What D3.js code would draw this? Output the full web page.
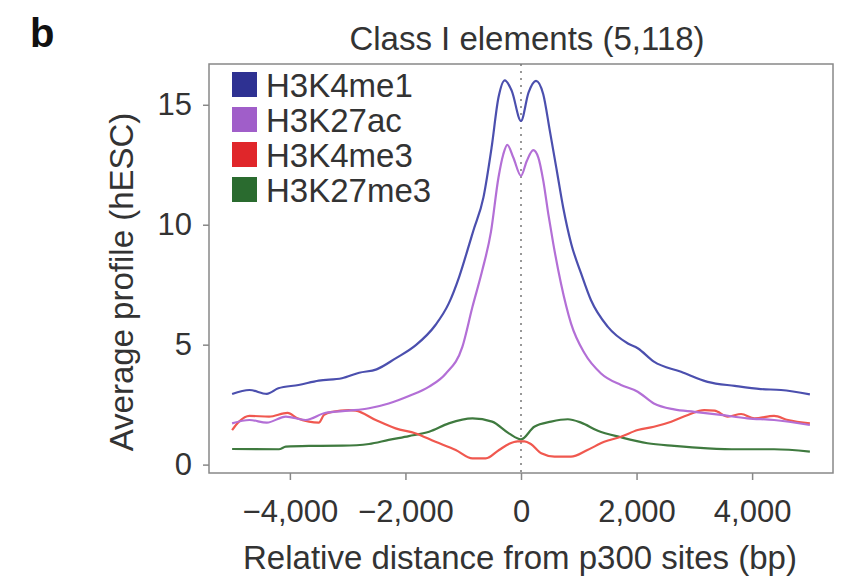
<!DOCTYPE html>
<html>
<head>
<meta charset="utf-8">
<script src="https://cdn.jsdelivr.net/npm/d3@7"></script>
<style>
  body { margin: 0; background: #fff; }
  svg text { font-family: "Liberation Sans", Arial, sans-serif; fill: #333; }
</style>
</head>
<body>
<div id="chart"></div>
<script>
// values: [bp, average profile]
var h3k4me1 = [[-5000,2.94],[-4700,3.11],[-4400,2.95],[-4200,3.18],[-3850,3.32],[-3500,3.5],[-3100,3.6],[-2800,3.83],[-2500,3.97],[-2170,4.43],[-1820,4.98],[-1480,5.82],[-1250,6.72],[-1070,7.83],[-900,9.15],[-825,9.75],[-650,11.14],[-510,13.2],[-390,15.3],[-280,16.02],[-160,15.58],[0,14.33],[130,15.51],[260,16.0],[385,15.44],[500,13.9],[620,12.25],[730,10.72],[870,9.2],[1040,7.97],[1210,6.86],[1500,5.75],[1850,5.05],[2020,4.85],[2300,4.29],[2770,3.87],[3230,3.45],[3700,3.28],[4150,3.15],[4500,3.11],[5000,2.93]];
var h3k27ac = [[-5000,1.72],[-4700,1.86],[-4400,1.75],[-4070,2.0],[-3730,1.86],[-3380,2.16],[-2980,2.25],[-2630,2.35],[-2290,2.55],[-1940,2.86],[-1590,3.25],[-1300,3.8],[-1015,4.91],[-840,6.58],[-670,8.1],[-520,9.7],[-390,11.97],[-306,12.94],[-237,13.33],[-133,12.8],[0,12.04],[100,12.66],[213,13.11],[300,12.8],[386,11.83],[473,10.44],[560,9.19],[692,7.55],[865,5.89],[1100,4.64],[1385,3.8],[1730,3.32],[2020,3.04],[2300,2.55],[2650,2.3],[3000,2.2],[3460,2.07],[3920,1.93],[4380,1.86],[5000,1.65]];
var h3k4me3 = [[-5000,1.44],[-4880,1.79],[-4700,2.03],[-4360,2.0],[-4040,2.16],[-3870,1.93],[-3670,1.79],[-3500,1.75],[-3410,2.07],[-3265,2.2],[-2980,2.27],[-2860,2.25],[-2515,1.86],[-2170,1.51],[-1820,1.3],[-1480,0.95],[-1130,0.61],[-840,0.26],[-610,0.26],[-380,0.61],[-210,0.86],[-60,0.97],[60,0.97],[170,0.86],[350,0.47],[580,0.33],[865,0.33],[1150,0.61],[1440,0.95],[1730,1.16],[2020,1.44],[2300,1.58],[2600,1.79],[2890,2.07],[3170,2.27],[3350,2.25],[3580,2.0],[3810,2.11],[4040,1.93],[4380,2.03],[4620,1.86],[5000,1.72]];
var h3k27me3 = [[-5000,0.65],[-4190,0.64],[-4070,0.75],[-3670,0.78],[-3090,0.79],[-2630,0.86],[-2290,1.03],[-1940,1.19],[-1590,1.37],[-1250,1.72],[-840,1.93],[-500,1.79],[-210,1.3],[0,1.05],[230,1.58],[520,1.79],[810,1.89],[1040,1.75],[1330,1.41],[1730,1.14],[2190,0.89],[2650,0.78],[3230,0.68],[3750,0.64],[4380,0.64],[5000,0.54]];

var seriesNames = ["H3K4me1", "H3K27ac", "H3K4me3", "H3K27me3"];
var xTicks = [-4000, -2000, 0, 2000, 4000];
var yTicks = [0, 5, 10, 15];

var lineColors = ["#4b4fae", "#b36fd6", "#f0584f", "#3f7a3f"];
var keyColors = ["#2e3192", "#a05ec9", "#e0262a", "#2a6b2f"];

var svg = d3.select("#chart")
  .append("svg")
    .attr("width", 841)
    .attr("height", 581);

// plot box (note: "top" is taken by window.top, so prefix these)
var boxLeft = 209, boxRight = 833, boxTop = 64, boxBottom = 473;

var x = d3.scaleLinear().domain([-5400, 5400]).range([boxLeft, boxRight]);
var y = d3.scaleLinear().domain([-0.35, 16.7]).range([boxBottom, boxTop]);

svg.append("text")
  .attr("x", 30)
  .attr("y", 47)
  .attr("font-size", 40)
  .attr("font-weight", "bold")
  .style("fill", "#111")
  .text("b");

svg.append("text")
  .attr("x", 527)
  .attr("y", 50)
  .attr("font-size", 33)
  .attr("text-anchor", "middle")
  .text("Class I elements (5,118)");

// axes
var xAxis = d3.axisBottom(x)
  .tickValues(xTicks)
  .tickSize(7)
  .tickFormat(d => d3.format(",")(d).replace("-", "\u2212"));
var gx = svg.append("g")
  .attr("transform", `translate(0, ${boxBottom})`)
  .call(xAxis);
gx.select(".domain").remove();
gx.selectAll("line").attr("stroke", "#888").attr("stroke-width", 1.5);
gx.selectAll("text")
  .attr("y", 27)
  .attr("dy", "0.71em")
  .attr("font-size", 31)
  .style("fill", "#333");

var yAxis = d3.axisLeft(y)
  .tickValues(yTicks)
  .tickSize(6);
var gy = svg.append("g")
  .attr("transform", `translate(${boxLeft}, 0)`)
  .call(yAxis);
gy.select(".domain").remove();
gy.selectAll("line").attr("stroke", "#888").attr("stroke-width", 1.5);
gy.selectAll("text")
  .attr("x", -17)
  .attr("font-size", 31)
  .style("fill", "#333");

svg.append("rect")
  .attr("x", boxLeft)
  .attr("y", boxTop)
  .attr("width", boxRight - boxLeft)
  .attr("height", boxBottom - boxTop)
  .attr("fill", "none")
  .attr("stroke", "#888")
  .attr("stroke-width", 1.5);

// dotted line at the p300 site
svg.append("line")
  .attr("x1", x(0)).attr("x2", x(0))
  .attr("y1", boxTop).attr("y2", boxBottom)
  .attr("stroke", "#777")
  .attr("stroke-width", 1.5)
  .attr("stroke-dasharray", "2,5");

svg.append("text")
  .attr("transform", "translate(133, 282) rotate(-90)")
  .attr("font-size", 33)
  .attr("text-anchor", "middle")
  .text("Average profile (hESC)");

svg.append("text")
  .attr("x", 520)
  .attr("y", 569)
  .attr("font-size", 33)
  .attr("text-anchor", "middle")
  .text("Relative distance from p300 sites (bp)");

// profiles
var line = d3.line()
  .x(d => x(d[0]))
  .y(d => y(d[1]))
  .curve(d3.curveMonotoneX);

var allSeries = [h3k27me3, h3k4me3, h3k27ac, h3k4me1];
var allColors = [lineColors[3], lineColors[2], lineColors[1], lineColors[0]];
svg.selectAll(".profile")
  .data(allSeries)
  .enter().append("path")
    .attr("class", "profile")
    .attr("d", d => line(d))
    .attr("fill", "none")
    .attr("stroke", (d, i) => allColors[i])
    .attr("stroke-width", 2.2);

// legend
var key = svg.selectAll(".key")
  .data(seriesNames)
  .enter().append("g")
    .attr("class", "key")
    .attr("transform", (d, i) => `translate(232, ${97 + i*35})`);
key.append("rect")
  .attr("x", 0)
  .attr("y", -25)
  .attr("width", 25)
  .attr("height", 25)
  .attr("fill", (d, i) => keyColors[i]);
key.append("text")
  .attr("x", 34)
  .attr("y", 0)
  .attr("font-size", 33)
  .text(d => d);
</script>
</body>
</html>
